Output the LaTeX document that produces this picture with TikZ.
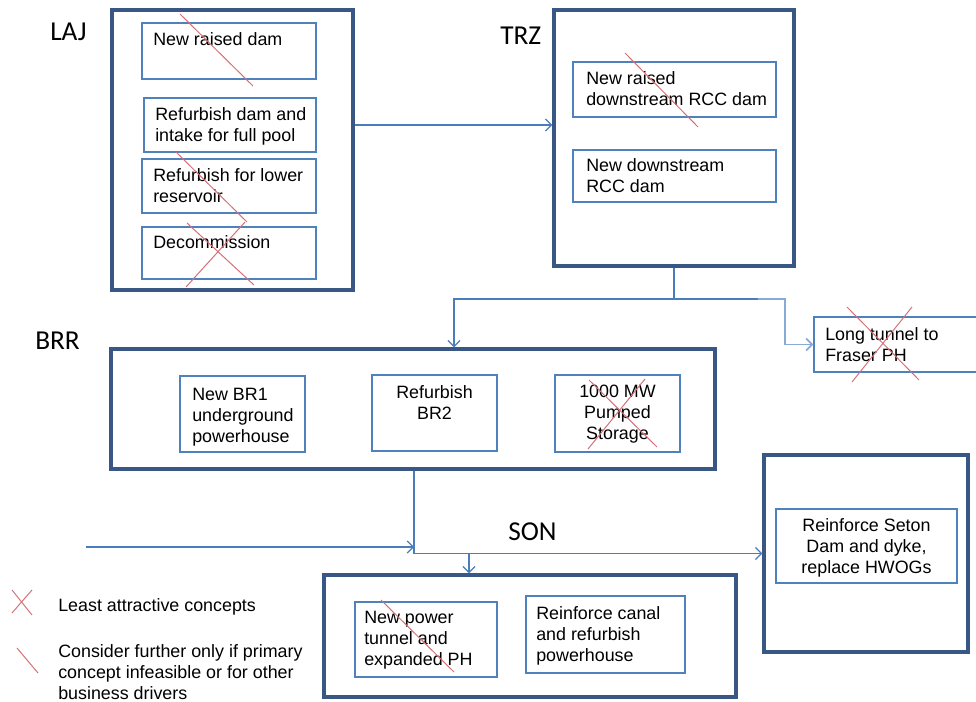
\documentclass[tikz,border=0pt]{standalone}
\usepackage{fontspec}
\setmainfont{Liberation Sans}
\newfontfamily\hdrfont{Carlito}
\usetikzlibrary{arrows.meta,fit}
\definecolor{obox}{RGB}{56,87,132}
\definecolor{ibc}{RGB}{79,129,189}
\definecolor{cc}{RGB}{74,126,187}
\definecolor{ccl}{RGB}{135,170,215}
\definecolor{rc}{RGB}{214,112,118}
\begin{document}
\begin{tikzpicture}[x=0.75pt,y=-0.75pt,
  outer/.style={draw=obox,line width=2.6pt,inner sep=0pt},
  ibox/.style={draw=ibc,line width=1pt,inner sep=0pt},
  conn/.style={draw=cc,line width=0.9pt,-{Straight Barb[length=4.5pt,width=9pt]}},
  connl/.style={draw=ccl,line width=1.3pt,-{Straight Barb[length=4.5pt,width=9pt]}},
  plain/.style={draw=cc,line width=0.9pt},
  redm/.style={draw=rc,line width=0.75pt},
  txt/.style={font=\fontsize{13.4}{15.8}\selectfont,inner sep=0pt,align=left,anchor=north west},
  ctxt/.style={font=\fontsize{13.4}{15.8}\selectfont,inner sep=0pt,align=center,anchor=north},
  hdr/.style={font=\hdrfont\fontsize{20.5}{24}\selectfont,inner sep=0pt,anchor=north west}]
\useasboundingbox (0,0) rectangle (976,702);
\clip (0,0) rectangle (976,702);

% outer boxes
\node[outer,fit={(112,10)(353,290)}] (laj) {};
\node[outer,fit={(554,10)(794,266)}] (trz) {};
\node[outer,fit={(111,349)(715,469)}] (brr) {};
\node[outer,fit={(324,575)(736,697)}] (son) {};
\node[outer,fit={(764,455)(968,652)}] (seton) {};

% inner boxes
\node[ibox,fit={(142,23)(316,79)}] (laj1) {};
\node[ibox,fit={(144,98)(316,152)}] (laj2) {};
\node[ibox,fit={(142,159)(316,213)}] (laj3) {};
\node[ibox,fit={(142,227)(316,279)}] (laj4) {};
\node[ibox,fit={(573,62)(776,117)}] (trz1) {};
\node[ibox,fit={(573,150)(776,202)}] (trz2) {};
\node[ibox,fit={(814,317)(990,372)}] (fraser) {};
\node[ibox,fit={(180,376)(305,452)}] (br1) {};
\node[ibox,fit={(372,375)(497,451)}] (br2) {};
\node[ibox,fit={(555,375)(680,452)}] (ps) {};
\node[ibox,fit={(355,602)(497,677)}] (son1) {};
\node[ibox,fit={(526,596)(685,673)}] (son2) {};
\node[ibox,fit={(776,509)(957,583)}] (setonin) {};

% headers
\node[hdr] (hlaj) at (50,23) {LAJ};
\node[hdr] (htrz) at (500,27) {TRZ};
\node[hdr] (hbrr) at (35,332) {BRR};
\node[hdr] (hson) at (508,522) {SON};

% texts
\node[txt] (tlaj1) at (153,32) {New raised dam};
\node[txt] (tlaj2) at (155,107) {Refurbish dam and\\intake for full pool};
\node[txt] (tlaj3) at (153,168) {Refurbish for lower\\reservoir};
\node[txt] (tlaj4) at (153,235) {Decommission};
\node[txt] (ttrz1) at (586,71) {New raised\\downstream RCC dam};
\node[txt] (ttrz2) at (586,158) {New downstream\\RCC dam};
\node[txt] (tfr) at (825,327) {Long tunnel to\\Fraser PH};
\node[txt] (tbr1) at (192,388) {New BR1\\underground\\powerhouse};
\node[ctxt] (tbr2) at (434.5,385) {Refurbish\\BR2};
\node[ctxt] (tps) at (617.5,385) {1000 MW\\Pumped\\Storage};
\node[txt] (tson1) at (364,611) {New power\\tunnel and\\expanded PH};
\node[txt] (tson2) at (536,606) {Reinforce canal\\and refurbish\\powerhouse};
\node[ctxt] (tset) at (866.5,518) {Reinforce Seton\\Dam and dyke,\\replace HWOGs};
\node[txt] (leg1) at (58,598) {Least attractive concepts};
\node[txt] (leg2) at (58,644) {Consider further only if primary\\concept infeasible or for other\\business drivers};

% connectors
\coordinate (a1) at (450,125);
\draw[conn] (laj.east |- a1) -- (trz.west |- a1);
\coordinate (j1) at (454,299);
\coordinate (j2) at (785,299);
\coordinate (j3) at (758,299);
\draw[conn] (trz.south) |- (j1) -- (j1 |- brr.north);
\draw[plain] (trz.south |- j1) -- (j3);
\draw[connl] (j3) -- (j2) |- (fraser.west);
\coordinate (j4) at (414,554);
\coordinate (j5) at (469,554);
\draw[conn] (brr.south -| j4) |- (seton.west);
\draw[conn] (j5) -- (j5 |- son.north);
\coordinate (ls) at (86,547);
\draw[conn] (ls) -- (ls -| j4);

% red marks
\draw[redm] (180,14) -- (253,86);
\draw[redm] (176,152) -- (247,222);
\draw[redm] (187,223) -- (254,285);
\draw[redm] (245,222) -- (186,287);
\draw[redm] (625,53) -- (698,127);
\draw[redm] (847,307) -- (919,380);
\draw[redm] (912,307) -- (852,382);
\draw[redm] (589,380) -- (657,447);
\draw[redm] (645,379) -- (588,449);
\draw[redm] (381,600) -- (454,672);
\draw[redm] (12,590) -- (32,615);
\draw[redm] (32,590) -- (12,613);
\draw[redm] (17,648) -- (38,673);
\end{tikzpicture}
\end{document}
